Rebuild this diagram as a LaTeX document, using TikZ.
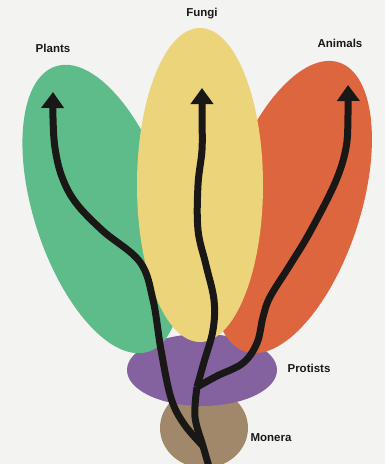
\documentclass[tikz,border=0pt]{standalone}
\usepackage{fontspec}
\setmainfont{Liberation Sans}
\usetikzlibrary{shapes.geometric,arrows.meta}
\definecolor{bg}{RGB}{243,243,241}
\definecolor{plantc}{RGB}{94,188,138}
\definecolor{fungic}{RGB}{236,212,122}
\definecolor{animc}{RGB}{221,102,62}
\definecolor{protc}{RGB}{132,98,160}
\definecolor{monc}{RGB}{162,136,106}
\definecolor{ink}{RGB}{26,24,22}
\tikzset{
  blob/.style={ellipse, inner sep=0pt, draw=none},
  lab/.style={font=\bfseries\fontsize{11.5}{13}\selectfont, text=ink, inner sep=1pt},
  lineage/.style={draw=ink, line width=7pt, line join=round},
  lineagetip/.style={lineage, -{Triangle[width=22pt,length=16pt]}}
}
\begin{document}
\begin{tikzpicture}[x=1pt,y=1pt]
\fill[bg] (0,0) rectangle (385,-464);
\useasboundingbox (0,0) rectangle (385,-464);
% kingdoms
\node[blob, fill=monc, minimum width=88pt, minimum height=80pt] (monera) at (204,-428) {};
\node[blob, fill=protc, minimum width=150pt, minimum height=72pt] (protists) at (202,-370) {};
\node[blob, fill=plantc, minimum width=136pt, minimum height=300pt, rotate=18] (plants) at (102,-209) {};
\node[blob, fill=animc, minimum width=136pt, minimum height=304pt, rotate=-18] (animals) at (292,-207) {};
\node[blob, fill=fungic, minimum width=126pt, minimum height=314pt] (fungi) at (200,-185) {};
% labels
\node[lab] (lplants) at (53,-48) {Plants};
\node[lab] (lfungi) at (202,-14) {Fungi};
\node[lab] (lanimals) at (340,-43) {Animals};
\node[lab] (lprotists) at (309,-368) {Protists};
\node[lab] (lmonera) at (271,-438) {Monera};
% branching points
\coordinate (root) at (210,-470);
\coordinate (j1) at (203,-446);
\coordinate (j2) at (197,-387);
\coordinate (tipP) at (53,-92);
\coordinate (tipF) at (202,-88);
\coordinate (tipA) at (348,-85);
% lineages
\draw[lineage] plot[smooth, tension=0.6] coordinates {(root) (j1) (195,-417) (j2)};
\draw[lineagetip] plot[smooth, tension=0.6] coordinates {(j1) (184,-424) (171,-398) (161,-350) (153,-300) (140,-262) (103,-231) (76,-203) (62,-177) (55,-148) (53,-118) (tipP)};
\draw[lineagetip] plot[smooth, tension=0.6] coordinates {(j2) (204,-362) (213,-330) (214,-300) (206,-265) (198,-230) (198,-185) (202,-150) (202,-118) (tipF)};
\draw[lineagetip] plot[smooth, tension=0.6] coordinates {(j2) (217,-376) (243,-363) (257,-343) (263,-317) (270,-297) (290,-265) (310,-232) (335,-183) (346,-148) (348,-115) (tipA)};
\end{tikzpicture}
\end{document}
